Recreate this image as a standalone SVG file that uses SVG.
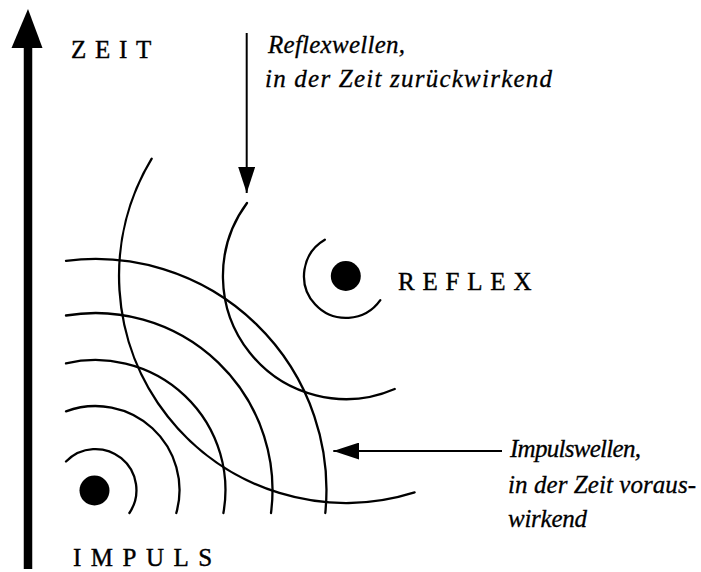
<svg xmlns="http://www.w3.org/2000/svg" width="701" height="572" viewBox="0 0 701 572">
  <style>
    .wave { fill: none; stroke: #000; stroke-width: 2.3; stroke-linecap: round; }
    .dot { fill: #000; }
    .caps { font-family: "Liberation Serif", "Times New Roman", serif; font-size: 25px; fill: #000; stroke: #000; stroke-width: 0.4; }
    .ital { font-family: "Liberation Serif", "Times New Roman", serif; font-style: italic; font-size: 25px; fill: #000; stroke: #000; stroke-width: 0.3; }
    .thin { stroke: #000; stroke-width: 2; fill: none; }
  </style>
  <defs>
    <marker id="head" markerUnits="userSpaceOnUse" markerWidth="27" markerHeight="17" refX="26" refY="8.5" orient="auto" viewBox="0 0 27 17">
      <path d="M0,0 L26,8.5 L0,17 Z" fill="#000"/>
    </marker>
  </defs>
  <rect width="701" height="572" fill="#fff"/>

  <g id="zeit-axis">
    <line x1="28" y1="569" x2="28" y2="46" stroke="#000" stroke-width="8.5"/>
    <polygon points="28,9 42.5,48 11.5,48" fill="#000"/>
    <text class="caps" x="71" y="58" letter-spacing="8.7">ZEIT</text>
  </g>

  <g id="impulswellen">
    <path class="wave" d="M66,461.5 A41,41 0 0 1 129.4,513"/>
    <path class="wave" d="M66,411.4 A84,84 0 0 1 176.3,513"/>
    <path class="wave" d="M66,363.4 A130,130 0 0 1 223.4,513"/>
    <path class="wave" d="M66,315.5 A177,177 0 0 1 271,513"/>
    <path class="wave" d="M66,260.9 A231,231 0 0 1 325.3,513"/>
  </g>

  <g id="reflexwellen">
    <path class="wave" d="M324.8,239.7 A42,42 0 1 0 380.3,300.2"/>
    <path class="wave" d="M247,203 A123,123 0 0 0 394.7,389"/>
    <path class="wave" d="M151.7,158.7 A227,227 0 0 0 414.6,492.4"/>
  </g>

  <g id="impuls">
    <circle class="dot" cx="94.5" cy="490.5" r="15"/>
    <text class="caps" x="73" y="566" letter-spacing="9.5">IMPULS</text>
  </g>

  <g id="reflex">
    <circle class="dot" cx="345.8" cy="276" r="15"/>
    <text class="caps" x="398" y="289.5" letter-spacing="7.8">REFLEX</text>
  </g>

  <g id="connectors">
    <line class="thin" x1="246.7" y1="33" x2="246.7" y2="193" marker-end="url(#head)"/>
    <line class="thin" x1="502" y1="451" x2="333.3" y2="451" marker-end="url(#head)"/>
  </g>

  <g id="label-reflexwellen">
    <text class="ital" x="268" y="53" textLength="137" lengthAdjust="spacing">Reflexwellen,</text>
    <text class="ital" x="265" y="87" textLength="287" lengthAdjust="spacing">in der Zeit zurückwirkend</text>
  </g>

  <g id="label-impulswellen">
    <text class="ital" x="510" y="457" textLength="131" lengthAdjust="spacing">Impulswellen,</text>
    <text class="ital" x="508" y="493" textLength="188" lengthAdjust="spacing">in der Zeit voraus-</text>
    <text class="ital" x="508" y="527" textLength="79" lengthAdjust="spacing">wirkend</text>
  </g>
</svg>
